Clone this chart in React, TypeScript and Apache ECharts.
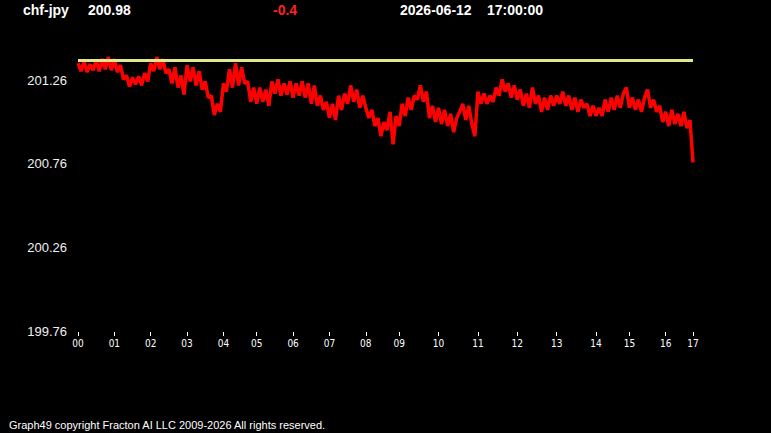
import * as echarts from 'echarts';
import { useEffect, useRef } from 'react';

const symbol = 'chf-jpy';
const lastPrice = '200.98';
const change = '-0.4';
const quoteDate = '2026-06-12';
const quoteTime = '17:00:00';
const footerText = 'Graph49 copyright Fracton AI LLC 2009-2026 All rights reserved.';

const prevClose = 201.38;
const yTicks = [199.76, 200.26, 200.76, 201.26];
const hourLabels = ['00', '01', '02', '03', '04', '05', '06', '07', '08', '09', '10', '11', '12', '13', '14', '15', '16', '17'];

// prices, one list per hour
const pricesByHour: number[][] = [
  [201.363, 201.315, 201.375, 201.309, 201.357, 201.321, 201.382, 201.315, 201.388, 201.327, 201.4, 201.321],
  [201.388, 201.309, 201.351, 201.266, 201.29, 201.223, 201.278, 201.236, 201.284, 201.23, 201.303, 201.254],
  [201.363, 201.315, 201.4, 201.327, 201.388, 201.303, 201.327, 201.242, 201.339, 201.217, 201.29, 201.175],
  [201.351, 201.254, 201.339, 201.23, 201.315, 201.205, 201.254, 201.157, 201.169, 201.053, 201.12, 201.072],
  [201.242, 201.193, 201.327, 201.217, 201.363, 201.23, 201.339, 201.242, 201.254, 201.132, 201.217],
  [201.12, 201.217, 201.132, 201.205, 201.108, 201.254, 201.181, 201.266, 201.169, 201.242, 201.175, 201.254],
  [201.157, 201.242, 201.169, 201.254, 201.157, 201.242, 201.12, 201.23, 201.108, 201.169, 201.084, 201.132],
  [201.035, 201.12, 201.023, 201.169, 201.084, 201.181, 201.12, 201.23, 201.132, 201.205, 201.096, 201.169],
  [201.096, 201.035, 201.084, 200.987, 201.035, 200.926, 201.011, 200.962, 201.072, 200.877, 201.047],
  [200.987, 201.12, 201.047, 201.157, 201.084, 201.169, 201.145, 201.23, 201.132, 201.193, 201.035, 201.108, 201.011],
  [201.096, 200.999, 201.084, 200.987, 201.06, 200.95, 201.035, 201.072, 201.12, 201.023, 201.108, 200.999, 200.926],
  [201.193, 201.12, 201.181, 201.12, 201.169, 201.132, 201.217, 201.169, 201.266, 201.193, 201.242, 201.157, 201.23],
  [201.145, 201.205, 201.108, 201.181, 201.096, 201.217, 201.12, 201.169, 201.072, 201.157, 201.084, 201.169, 201.108],
  [201.169, 201.12, 201.193, 201.108, 201.169, 201.084, 201.157, 201.072, 201.145, 201.096, 201.12, 201.047, 201.108],
  [201.047, 201.096, 201.047, 201.145, 201.072, 201.157, 201.084, 201.169, 201.096, 201.181, 201.217],
  [201.096, 201.157, 201.084, 201.145, 201.072, 201.157, 201.205, 201.096, 201.145, 201.072, 201.108, 201.011],
  [201.072, 200.987, 201.084, 200.999, 201.06, 200.987, 201.072, 200.974, 201.023],
  [200.77]
];

export default function App() {
  const chartRef = useRef<HTMLDivElement>(null);

  useEffect(() => {
    if (!chartRef.current) return;
    document.body.style.margin = '0';
    document.body.style.background = '#000';

    const chart = echarts.init(chartRef.current, undefined, { renderer: 'svg' });

    const prices = pricesByHour.flat();
    const hourAt: Record<number, string> = {};
    let idx = 0;
    pricesByHour.forEach((hour, h) => {
      hourAt[idx] = hourLabels[h];
      idx += hour.length;
    });
    const isHourStart = (i: number) => hourAt[i] !== undefined;

    const headerFont = 'bold 14px "Liberation Sans", Arial, sans-serif';
    const header = (x: number, text: string, fill = '#ffffff') => ({
      type: 'text',
      x,
      y: 10,
      style: { text, fill, font: headerFont, textVerticalAlign: 'middle' }
    });

    chart.setOption({
      animation: false,
      backgroundColor: '#000000',
      grid: { left: 78, right: 78, top: 47, bottom: 102 },
      xAxis: {
        type: 'category',
        data: prices.map((_, i) => i),
        boundaryGap: false,
        offset: 1,
        axisLine: { show: false },
        axisTick: {
          show: true,
          interval: (i: number) => isHourStart(i),
          length: 4,
          lineStyle: { color: '#ffffff', width: 1 }
        },
        axisLabel: {
          interval: (i: number) => isHourStart(i),
          formatter: (_v: string, i: number) => hourAt[i] ?? '',
          color: '#ffffff',
          fontSize: 10,
          fontFamily: '"DejaVu Sans Condensed", "Liberation Sans", Arial, sans-serif',
          margin: 6
        },
        splitLine: { show: false }
      },
      yAxis: {
        type: 'value',
        min: 199.76,
        max: 201.46,
        interval: 0.5,
        axisLine: { show: false },
        axisTick: { show: false },
        splitLine: { show: false },
        axisLabel: {
          color: '#f0f0f0',
          fontSize: 13,
          fontFamily: '"Liberation Sans", Arial, sans-serif',
          margin: 11,
          formatter: (v: number) => {
            const s = v.toFixed(2);
            return yTicks.some((t) => t.toFixed(2) === s) ? s : '';
          }
        }
      },
      series: [
        {
          type: 'line',
          data: prices,
          showSymbol: false,
          lineStyle: { color: '#ff0000', width: 3.5, join: 'bevel' },
          markLine: {
            silent: true,
            symbol: ['none', 'none'],
            label: { show: false },
            lineStyle: { color: '#e2e68c', width: 3, type: 'solid' },
            data: [{ yAxis: prevClose }]
          }
        }
      ],
      graphic: [
        header(23, symbol),
        header(88, lastPrice),
        header(273, change, '#ff2020'),
        header(400, quoteDate),
        header(487, quoteTime),
        {
          type: 'text',
          x: 9,
          y: 425,
          style: {
            text: footerText,
            fill: '#ffffff',
            font: '11px "Liberation Sans", Arial, sans-serif',
            textVerticalAlign: 'middle'
          }
        }
      ]
    });

    return () => {
      chart.dispose();
    };
  }, []);

  return <div ref={chartRef} style={{ width: 771, height: 433, background: '#000' }} />;
}
